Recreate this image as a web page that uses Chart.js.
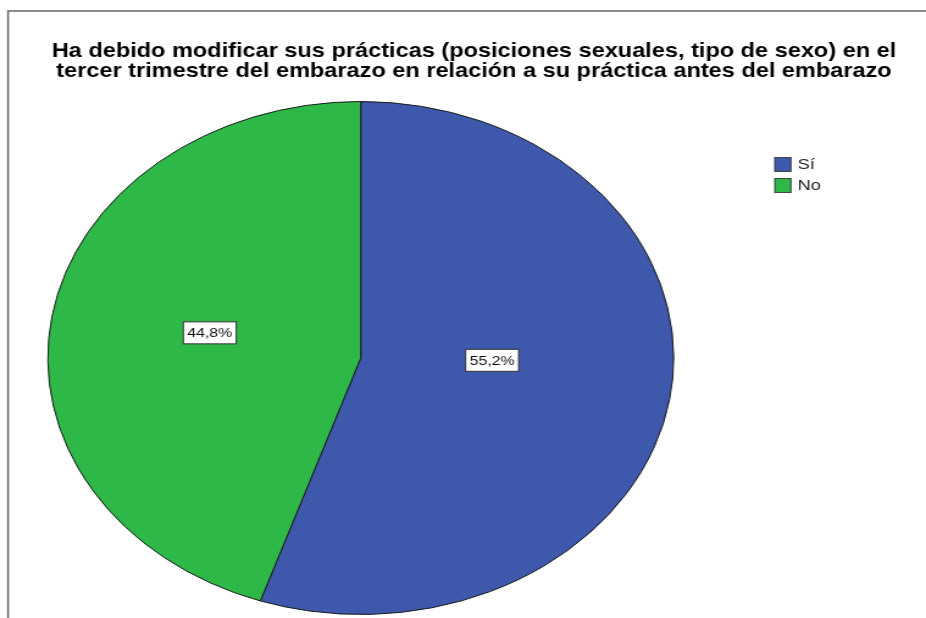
<!DOCTYPE html>
<html>
<head>
<meta charset="utf-8">
<script src="https://cdn.jsdelivr.net/npm/chart.js@4.4.0/dist/chart.umd.min.js"></script>
<style>
  html, body { margin: 0; padding: 0; background: #fff; overflow: hidden; }
  /* the chart is drawn narrow and stretched sideways, like the exported pie */
  #wrap { width: 759px; height: 618px; transform: scaleX(1.22); transform-origin: 0 0; }
</style>
</head>
<body>
<div id="wrap"><canvas id="pie-chart" width="759" height="618"></canvas></div>
<script>
const titleLines = [
  'Ha debido modificar sus prácticas (posiciones sexuales, tipo de sexo) en el',
  'tercer trimestre del embarazo en relación a su práctica antes del embarazo'
]
const categories = ['Sí', 'No']
const percentages = [55.2, 44.8]
const sliceColors = ['#3E58AC', '#2EB848']

const FONT = "'Liberation Sans', Arial, sans-serif"

// thin frame along the top and left edge
const framePlugin = {
  id: 'frame',
  beforeDraw (chart) {
    const ctx = chart.ctx
    ctx.save()
    ctx.strokeStyle = '#666'
    ctx.lineWidth = 1.5
    ctx.beginPath()
    ctx.moveTo(6.6, chart.height)
    ctx.lineTo(6.6, 11)
    ctx.lineTo(chart.width, 11)
    ctx.stroke()
    ctx.restore()
  }
}

// two line title, centred over the whole frame (the built-in title would
// squeeze it into the pie's width)
const frameTitlePlugin = {
  id: 'frameTitle',
  afterDraw (chart) {
    const ctx = chart.ctx
    ctx.save()
    ctx.font = 'bold 19.3px ' + FONT
    ctx.fillStyle = '#000'
    ctx.textAlign = 'center'
    ctx.textBaseline = 'middle'
    titleLines.forEach((line, i) => {
      ctx.fillText(line, chart.width / 2 + 9, 51.5 + i * 20)
    })
    ctx.restore()
  }
}

// boxed percentage near the centroid of each slice, flattened a little
// toward the middle line
const sliceLabelPlugin = {
  id: 'sliceLabels',
  afterDatasetsDraw (chart) {
    const ctx = chart.ctx
    const meta = chart.getDatasetMeta(0)
    ctx.save()
    ctx.font = '13px ' + FONT
    ctx.textAlign = 'center'
    ctx.textBaseline = 'middle'
    meta.data.forEach((arc, i) => {
      const { x, y, startAngle, endAngle, outerRadius } = arc.getProps(['x', 'y', 'startAngle', 'endAngle', 'outerRadius'], true)
      const theta = endAngle - startAngle
      const mid = startAngle + theta / 2
      const dist = 1.08 * 4 * outerRadius * Math.sin(theta / 2) / (3 * theta)
      const lx = x + Math.cos(mid) * dist + 4
      const ly = y + 0.72 * Math.sin(mid) * dist - 10
      const text = percentages[i].toFixed(1).replace('.', ',') + '%'
      const w = ctx.measureText(text).width + 6.5
      const h = 22
      ctx.fillStyle = '#fff'
      ctx.fillRect(lx - w / 2, ly - h / 2, w, h)
      ctx.strokeStyle = '#333'
      ctx.lineWidth = 1
      ctx.strokeRect(lx - w / 2, ly - h / 2, w, h)
      ctx.fillStyle = '#111'
      ctx.fillText(text, lx, ly + 1)
    })
    ctx.restore()
  }
}

// legend to the right of the pie
const sideLegendPlugin = {
  id: 'sideLegend',
  afterDraw (chart) {
    const ctx = chart.ctx
    const left = chart.chartArea.right + 82
    const top = 157
    ctx.save()
    ctx.font = '15px ' + FONT
    ctx.textBaseline = 'middle'
    chart.data.labels.forEach((label, i) => {
      const y = top + i * 21
      ctx.fillStyle = chart.data.datasets[0].backgroundColor[i]
      ctx.fillRect(left, y, 14, 15)
      ctx.strokeStyle = '#444'
      ctx.lineWidth = 1
      ctx.strokeRect(left + 0.5, y + 0.5, 13, 14)
      ctx.fillStyle = '#222'
      ctx.fillText(label, left + 19, y + 8)
    })
    ctx.restore()
  }
}

const data = {
  labels: categories,
  datasets: [{
    data: percentages,
    backgroundColor: sliceColors,
    borderColor: '#1a1a1a',
    borderWidth: 1,
    hoverOffset: 0
  }]
}

const options = {
  responsive: false,
  animation: false,
  events: [],
  layout: {
    padding: { top: 101, left: 38.7, right: 206.3, bottom: 3 }
  },
  plugins: {
    legend: { display: false },
    tooltip: { enabled: false },
    title: { display: false }
  }
}

new Chart(document.getElementById('pie-chart').getContext('2d'), {
  type: 'pie',
  data,
  options,
  plugins: [framePlugin, sliceLabelPlugin, sideLegendPlugin, frameTitlePlugin]
})
</script>
</body>
</html>
